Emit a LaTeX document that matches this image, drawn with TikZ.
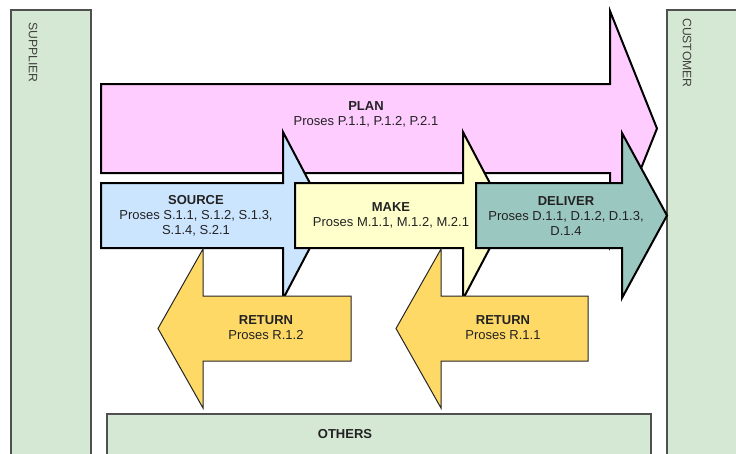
\documentclass[tikz,border=0pt]{standalone}
\usepackage{fontspec}
\setmainfont{Liberation Sans}
\definecolor{lanegreen}{HTML}{D5E8D4}
\definecolor{laneline}{HTML}{505050}
\definecolor{planfill}{HTML}{FFCCFF}
\definecolor{sourcefill}{HTML}{CCE5FF}
\definecolor{makefill}{HTML}{FFFFCC}
\definecolor{deliverfill}{HTML}{9AC7BF}
\definecolor{returnfill}{HTML}{FFD966}
\definecolor{inktext}{HTML}{222222}
\tikzset{
  lane/.style={fill=lanegreen, draw=laneline, line width=1.4pt},
  bigarrow/.style={draw=black, line width=2pt, line join=miter},
  retarrow/.style={draw=black!85, line width=1pt, line join=miter},
  label/.style={align=center, text=inktext, font=\fontsize{13}{15}\selectfont, inner sep=0pt},
  lanelabel/.style={rotate=-90, anchor=west, text=black!75, font=\fontsize{12.2}{14}\selectfont, inner sep=0pt}
}
\begin{document}
\begin{tikzpicture}[x=1pt,y=-1pt]
\useasboundingbox (0,0) rectangle (736,453);
\clip (0,0) rectangle (736,453);
\fill[white] (0,0) rectangle (736,453);

% side lanes and bottom band
\draw[lane] (11,10) rectangle (91,470);
\draw[lane] (667,10) rectangle (750,470);
\draw[lane] (107,414) rectangle (651,470);
\node[lanelabel] (supplier) at (33,22) {SUPPLIER};
\node[lanelabel] (customer) at (687,18) {CUSTOMER};
\node[label, font=\fontsize{13}{15}\selectfont\bfseries] (others) at (345,434) {OTHERS};

% PLAN
\draw[bigarrow, fill=planfill]
  (101,84) -- (610,84) -- (610,11) -- (657,128.5) -- (610,246) -- (610,173) -- (101,173) -- cycle;
\node[label] (plan) at (366,114) {\textbf{PLAN}\\Proses P.1.1, P.1.2, P.2.1};

% SOURCE
\draw[bigarrow, fill=sourcefill]
  (101,183) -- (283,183) -- (283,132) -- (327,215.5) -- (283,299) -- (283,248) -- (101,248) -- cycle;
% MAKE
\draw[bigarrow, fill=makefill]
  (295,183) -- (463,183) -- (463,132) -- (507,215.5) -- (463,299) -- (463,248) -- (295,248) -- cycle;
% DELIVER
\draw[bigarrow, fill=deliverfill]
  (476,183) -- (622,183) -- (622,133) -- (667,215.5) -- (622,298) -- (622,248) -- (476,248) -- cycle;

\node[label] (source) at (196,216) {\textbf{SOURCE}\\Proses S.1.1, S.1.2, S.1.3,\\S.1.4, S.2.1};
\node[label] (make) at (391,215.5) {\textbf{MAKE}\\Proses M.1.1, M.1.2, M.2.1};
\node[label] (deliver) at (566,216) {\textbf{DELIVER}\\Proses D.1.1, D.1.2, D.1.3,\\D.1.4};

% RETURN arrows
\draw[retarrow, fill=returnfill]
  (351,296) -- (203,296) -- (203,249) -- (158,328.5) -- (203,408) -- (203,361) -- (351,361) -- cycle;
\draw[retarrow, fill=returnfill]
  (588,296) -- (441,296) -- (441,249) -- (396,328.5) -- (441,408) -- (441,361) -- (588,361) -- cycle;
\node[label] (returnA) at (266,328) {\textbf{RETURN}\\Proses R.1.2};
\node[label] (returnB) at (503,328) {\textbf{RETURN}\\Proses R.1.1};
\end{tikzpicture}
\end{document}
